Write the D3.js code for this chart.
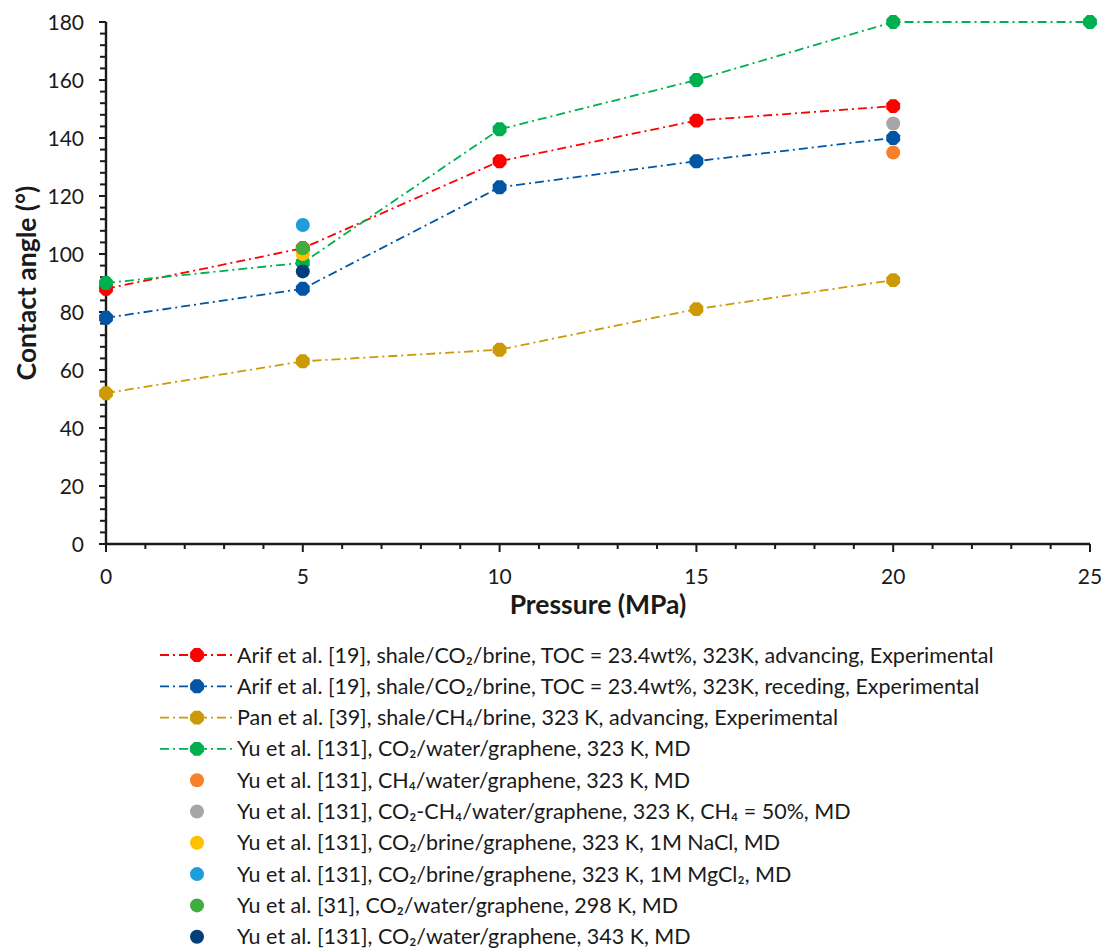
<!DOCTYPE html>
<meta charset="utf-8">
<style>
  body { margin: 0; background: #fff; }
  text { font-family: Lato, "Open Sans", sans-serif; fill: #1a1a1a; }
</style>
<script src="https://d3js.org/d3.v7.min.js"></script>
<div id="chart"></div>
<script>
// ---- data ----
const pressure = [0, 5, 10, 15, 20, 25];

const arifAdvName = "Arif et al. [19], shale/CO\u2082/brine, TOC = 23.4wt%, 323K, advancing, Experimental";
const arifAdv = [88, 102, 132, 146, 151];
const arifRecName = "Arif et al. [19], shale/CO\u2082/brine, TOC = 23.4wt%, 323K, receding, Experimental";
const arifRec = [78, 88, 123, 132, 140];
const panName = "Pan et al. [39], shale/CH\u2084/brine, 323 K, advancing, Experimental";
const pan = [52, 63, 67, 81, 91];
const yuName = "Yu et al. [131], CO\u2082/water/graphene, 323 K, MD";
const yu = [90, 97, 143, 160, 180, 180];

// single points: [pressure, angle]
const yuCH4Name = "Yu et al. [131], CH\u2084/water/graphene, 323 K, MD";
const yuCH4 = [20, 135];
const yuMixName = "Yu et al. [131], CO\u2082-CH\u2084/water/graphene, 323 K, CH\u2084 = 50%, MD";
const yuMix = [20, 145];
const yuNaClName = "Yu et al. [131], CO\u2082/brine/graphene, 323 K, 1M NaCl, MD";
const yuNaCl = [5, 100];
const yuMgName = "Yu et al. [131], CO\u2082/brine/graphene, 323 K, 1M MgCl\u2082, MD";
const yuMg = [5, 110];
const yu298Name = "Yu et al. [31], CO\u2082/water/graphene, 298 K, MD";
const yu298 = [5, 102];
const yu343Name = "Yu et al. [131], CO\u2082/water/graphene, 343 K, MD";
const yu343 = [5, 94];

const xTicks = [0, 5, 10, 15, 20, 25];
const yTicks = [0, 20, 40, 60, 80, 100, 120, 140, 160, 180];

const lineSeries = [
  {name: arifAdvName, values: arifAdv, color: "#ff0000"},
  {name: arifRecName, values: arifRec, color: "#0056a4"},
  {name: panName, values: pan, color: "#cc9a06"},
  {name: yuName, values: yu, color: "#00b050"}
];
const pointSeries = [
  {name: yuCH4Name, p: yuCH4, color: "#f7812b"},
  {name: yuMixName, p: yuMix, color: "#a6a6a6"},
  {name: yuNaClName, p: yuNaCl, color: "#ffc000"},
  {name: yuMgName, p: yuMg, color: "#1f9ddb"},
  {name: yu298Name, p: yu298, color: "#3fae3f"},
  {name: yu343Name, p: yu343, color: "#003f7a"}
];

// ---- layout ----
const W = 1104, H = 951;
const svg = d3.select("#chart").append("svg").attr("width", W).attr("height", H);

const x = d3.scaleLinear().domain([0, 25]).range([106, 1090]);
const y = d3.scaleLinear().domain([0, 180]).range([544, 22]);

const dash = "9,4,2,4";

// octagon-ish marker used by the line series
function octo(cx, cy, r) {
  const pts = d3.range(8).map(i => {
    const a = Math.PI / 8 + i * Math.PI / 4;
    return [cx + r * Math.cos(a), cy + r * Math.sin(a)];
  });
  return "M" + pts.join("L") + "Z";
}

// axes
const ax = svg.append("g").attr("stroke", "#1a1a1a").attr("stroke-width", 2.4);
ax.append("line").attr("x1", x(0)).attr("x2", x(25)).attr("y1", y(0)).attr("y2", y(0));
ax.append("line").attr("x1", x(0)).attr("x2", x(0)).attr("y1", y(0)).attr("y2", y(180));

// x ticks (minor every 1)
d3.range(0, 26, 1).forEach(v => {
  const major = v % 5 === 0;
  ax.append("line").attr("x1", x(v)).attr("x2", x(v))
    .attr("y1", y(0)).attr("y2", y(0) + (major ? 8 : 5))
    .attr("stroke-width", 2);
});
// y ticks (minor every 4)
d3.range(0, 181, 4).forEach(v => {
  ax.append("line").attr("x1", x(0)).attr("x2", x(0) - 6)
    .attr("y1", y(v)).attr("y2", y(v)).attr("stroke-width", 2);
});
yTicks.forEach(v => {
  ax.append("line").attr("x1", x(0)).attr("x2", x(0) - 7)
    .attr("y1", y(v)).attr("y2", y(v)).attr("stroke-width", 2);
});

svg.append("g").selectAll("text").data(xTicks).join("text")
  .attr("x", d => x(d)).attr("y", y(0) + 40)
  .attr("text-anchor", "middle").attr("font-size", 21).text(d => d);
svg.append("g").selectAll("text").data(yTicks).join("text")
  .attr("x", x(0) - 22).attr("y", d => y(d) + 7.5)
  .attr("text-anchor", "end").attr("font-size", 21).text(d => d);

svg.append("text").attr("x", (x(0) + x(25)) / 2).attr("y", 614)
  .attr("text-anchor", "middle").attr("font-size", 26.5).attr("font-weight", "bold")
  .text("Pressure (MPa)");
svg.append("text").attr("transform", `translate(36,${(y(0) + y(180)) / 2}) rotate(-90)`)
  .attr("text-anchor", "middle").attr("font-size", 26.5).attr("font-weight", "bold")
  .text("Contact angle (\u00b0)");

// line series
const line = d3.line().x((d, i) => x(pressure[i])).y(d => y(d));
lineSeries.forEach(s => {
  const g = svg.append("g");
  g.append("path").attr("d", line(s.values)).attr("fill", "none")
    .attr("stroke", s.color).attr("stroke-width", 1.8).attr("stroke-dasharray", dash);
  g.selectAll("path.m").data(s.values).join("path").attr("class", "m")
    .attr("d", (d, i) => octo(x(pressure[i]), y(d), 7.5))
    .attr("fill", s.color);
});

// single-point series
pointSeries.forEach(s => {
  svg.append("circle").attr("cx", x(s.p[0])).attr("cy", y(s.p[1])).attr("r", 7)
    .attr("fill", s.color);
});

// legend
const legX = 160, legY = 655, legStep = 31.3;
const leg = svg.append("g");
lineSeries.forEach((s, i) => {
  const yy = legY + i * legStep;
  leg.append("line").attr("x1", legX).attr("x2", legX + 74).attr("y1", yy).attr("y2", yy)
    .attr("stroke", s.color).attr("stroke-width", 1.8).attr("stroke-dasharray", dash);
  leg.append("path").attr("d", octo(legX + 37, yy, 7.5)).attr("fill", s.color);
  leg.append("text").attr("x", legX + 77).attr("y", yy + 7.5).attr("font-size", 21.5).text(s.name);
});
pointSeries.forEach((s, j) => {
  const yy = legY + (j + 4) * legStep;
  leg.append("circle").attr("cx", legX + 37).attr("cy", yy).attr("r", 7).attr("fill", s.color);
  leg.append("text").attr("x", legX + 77).attr("y", yy + 7.5).attr("font-size", 21.5).text(s.name);
});
</script>
